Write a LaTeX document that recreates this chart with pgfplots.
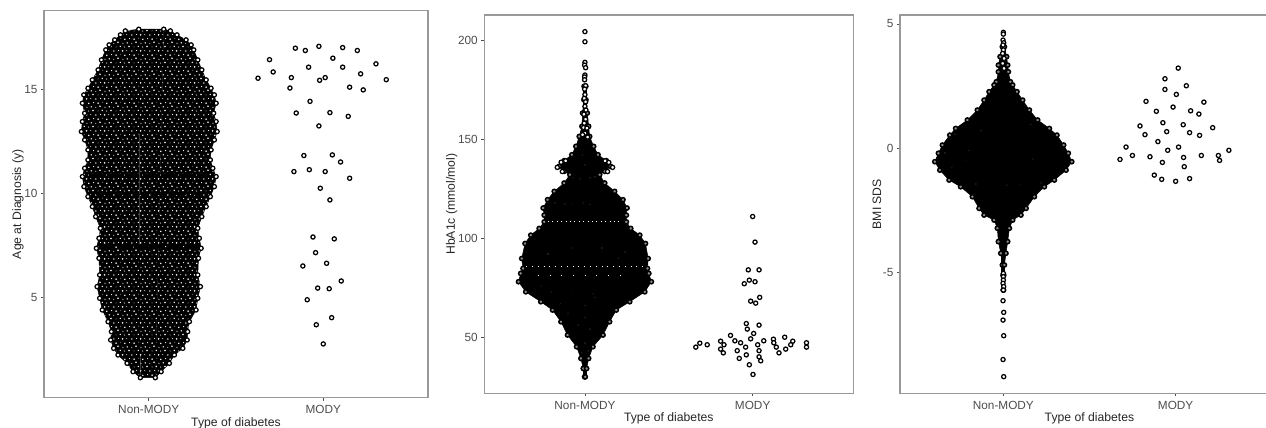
\documentclass[border=0pt]{standalone}
\usepackage{fontspec}
\setmainfont{Liberation Sans}
\usepackage{pgfplots}
\pgfplotsset{compat=1.18}
\usepackage{pgfplotstable}
\usetikzlibrary{patterns}
\pgfdeclarepatternformonly{swarmholes}{\pgfpoint{-1pt}{-1pt}}{\pgfpoint{19pt}{17pt}}{\pgfpoint{18pt}{16pt}}{
  \pgfpathcircle{\pgfpoint{1.2pt}{1.1pt}}{0.8pt}
  \pgfpathcircle{\pgfpoint{5.8pt}{0.6pt}}{0.5pt}
  \pgfpathcircle{\pgfpoint{10.0pt}{1.7pt}}{0.9pt}
  \pgfpathcircle{\pgfpoint{14.9pt}{0.7pt}}{0.6pt}
  \pgfpathcircle{\pgfpoint{3.6pt}{5.4pt}}{0.6pt}
  \pgfpathcircle{\pgfpoint{8.1pt}{4.8pt}}{0.9pt}
  \pgfpathcircle{\pgfpoint{12.8pt}{5.7pt}}{0.4pt}
  \pgfpathcircle{\pgfpoint{16.8pt}{4.7pt}}{0.8pt}
  \pgfpathcircle{\pgfpoint{0.7pt}{9.3pt}}{0.5pt}
  \pgfpathcircle{\pgfpoint{5.9pt}{9.0pt}}{0.8pt}
  \pgfpathcircle{\pgfpoint{10.6pt}{9.5pt}}{0.6pt}
  \pgfpathcircle{\pgfpoint{14.6pt}{9.1pt}}{0.9pt}
  \pgfpathcircle{\pgfpoint{3.0pt}{13.5pt}}{0.9pt}
  \pgfpathcircle{\pgfpoint{8.1pt}{13.0pt}}{0.4pt}
  \pgfpathcircle{\pgfpoint{12.3pt}{13.6pt}}{0.8pt}
  \pgfpathcircle{\pgfpoint{16.7pt}{12.9pt}}{0.6pt}
  \pgfusepath{fill}
}
\definecolor{framegray}{HTML}{999999}
\definecolor{ticktext}{HTML}{4D4D4D}
\pgfplotsset{
  swarmaxis/.style={
    scale only axis, anchor=south west,
    xmin=0.4, xmax=2.6, xtick={1,2}, xticklabels={Non-MODY,MODY},
    xtick pos=bottom, ytick pos=left, tick align=outside,
    major tick length=3pt,
    tick style={color=ticktext, line width=0.8pt},
    axis line style={color=framegray, line width=1.2pt},
    /pgf/number format/assume math mode=true,
    ticklabel style={font=\fontsize{11.8}{14}\selectfont, text=ticktext},
    xticklabel style={yshift=-1pt},
    xlabel={Type of diabetes},
    label style={font=\fontsize{12.2}{14}\selectfont, text=black!85},
    xlabel style={at={(axis description cs:0.5,0)},anchor=center,yshift=-25.5pt},
  },
  ring/.style={only marks, mark=*, mark size=2.1pt,
    mark options={fill=white, draw=black, line width=1.25pt}},
  edge/.style={only marks, mark=*, mark size=2.1pt,
    mark options={fill=black!45, draw=black, line width=1.5pt}},
  hole/.style={only marks, mark=*, mark size=0.6pt,
    mark options={fill=white, draw=none}},
  solid/.style={fill=black, draw=black, line width=0.5pt, mark=none, forget plot},
  dots/.style={pattern=swarmholes, pattern color=white, draw=none, mark=none, forget plot},
}
% rows of the Non-MODY swarm outline: y, left x, right x
\pgfplotstableread{
y xl xr
17.88 .943 1.086
17.80 .866 1.124
17.61 .838 1.162
17.37 .805 1.214
17.13 .773 1.243
16.89 .754 1.258
16.41 .729 1.281
15.93 .710 1.304
15.45 .677 1.329
15.05 .652 1.357
14.73 .628 1.376
14.33 .620 1.386
13.85 .633 1.372
13.45 .620 1.386
12.97 .614 1.392
12.57 .633 1.376
12.09 .652 1.357
11.61 .652 1.353
11.21 .633 1.367
10.81 .620 1.386
10.33 .629 1.376
9.85 .652 1.353
9.37 .677 1.329
8.89 .696 1.304
8.33 .723 1.281
7.85 .715 1.290
7.37 .700 1.300
6.89 .715 1.285
6.09 .719 1.281
5.53 .704 1.296
4.97 .719 1.281
4.41 .734 1.271
3.85 .767 1.233
3.37 .786 1.223
2.97 .782 1.220
2.57 .799 1.195
2.25 .824 1.147
1.85 .876 1.118
1.45 .910 1.071
1.16 .952 1.038
}\ageswarm
\pgfplotstableread{
y xl xr
176.6 .995 1.005
169.8 .994 1.006
163.1 .986 1.014
156.4 .982 1.022
151.3 .966 1.028
146.3 .946 1.052
142.1 .922 1.078
139.1 .876 1.127
136.2 .847 1.153
133.7 .876 1.118
132.0 .910 1.088
127.8 .876 1.118
123.6 .817 1.177
119.4 .777 1.227
115.2 .751 1.251
111.6 .757 1.247
108.2 .757 1.247
104.9 .727 1.273
101.5 .677 1.327
97.3 .643 1.361
89.7 .623 1.377
84.7 .631 1.373
82.2 .617 1.381
78.0 .604 1.396
72.9 .647 1.357
67.9 .737 1.267
63.7 .807 1.187
57.8 .857 1.147
51.1 .896 1.108
45.2 .950 1.048
39.3 .976 1.022
34.2 .990 1.010
30.0 .998 1.002
}\hbaswarm
\pgfplotstableread{
y xl xr
4.08 .994 1.006
3.68 .981 1.019
3.34 .971 1.025
3.07 .971 1.029
2.67 .959 1.041
2.54 .946 1.054
2.27 .917 1.079
1.93 .888 1.112
1.53 .849 1.151
1.13 .791 1.199
.79 .723 1.267
.52 .689 1.311
.12 .646 1.350
-.21 .623 1.377
-.55 .602 1.397
-.89 .631 1.364
-1.29 .685 1.296
-1.56 .752 1.238
-1.96 .820 1.180
-2.43 .859 1.132
-2.70 .888 1.102
-2.90 .946 1.054
-3.23 .965 1.035
-3.77 .971 1.025
-4.24 .985 1.015
-4.71 .994 1.006
-5.12 .998 1.002
-5.72 .999 1.001
}\bmiswarm
\begin{document}
\begin{tikzpicture}
% ---------- Panel 1
\begin{axis}[swarmaxis, at={(44pt,30.3pt)}, width=384pt, height=387pt,
  ymin=0.2, ymax=18.77, ytick={5,10,15},
  ylabel={Age at Diagnosis (y)},
  ylabel style={at={(axis description cs:0,0.5)},anchor=center,yshift=26pt}]
\addplot[solid] table[x=xl,y=y] {\ageswarm};
\addplot[solid] table[x=xr,y=y] {\ageswarm};
\addplot[solid] coordinates {(.943,17.88)(1.086,17.88)(1.038,1.16)(.952,1.16)};
\addplot[dots] table[x=xl,y=y] {\ageswarm};
\addplot[dots] table[x=xr,y=y] {\ageswarm};
\addplot[dots] coordinates {(.943,17.88)(1.086,17.88)(1.038,1.16)(.952,1.16)};
\addplot[black, line width=3pt, dash pattern=on 14pt off 3pt] coordinates {(.72,7.45) (1.28,7.45)};
\addplot[black, line width=1.6pt, dash pattern=on 14pt off 4pt] coordinates {(.75,4.65) (1.02,4.65)};
\addplot[black, line width=1.6pt, dash pattern=on 14pt off 4pt] coordinates {(.66,10.9) (1.34,10.9)};
\addplot[black, line width=1.3pt, dash pattern=on 14pt off 5pt] coordinates {(.70,9.95) (1.30,9.95)};
\addplot[ring] table[x=xl,y=y] {\ageswarm};
\addplot[ring] table[x=xr,y=y] {\ageswarm};
\addplot[ring] coordinates {
(1.840,16.97)(1.897,16.86)(1.975,17.06)(2.111,17.00)(2.195,16.86)(1.692,16.42)(2.055,16.49)
(2.302,16.22)(1.916,16.06)(2.111,16.06)(1.713,15.83)(2.214,15.74)(1.817,15.56)(2.011,15.56)
(1.979,15.43)(1.626,15.53)(2.361,15.46)(1.809,15.06)(2.151,15.10)(2.229,14.97)(1.924,14.42)
(1.845,13.86)(2.038,13.88)(2.143,13.70)(1.975,13.24)(1.889,11.82)(2.052,11.85)(2.099,11.51)
(1.832,11.05)(1.920,11.14)(2.011,11.05)(2.151,10.73)(1.983,10.25)(2.038,9.69)(1.941,7.91)
(2.063,7.82)(1.956,7.16)(2.019,6.65)(1.883,6.52)(2.103,5.80)(1.968,5.46)(2.034,5.43)
(1.908,4.90)(2.048,4.04)(1.960,3.70)(2.000,2.78)};
\end{axis}
% ---------- Panel 2
\begin{axis}[swarmaxis, at={(484.3pt,34.7pt)}, width=369pt, height=378.3pt,
  ymin=21.7, ymax=212.6, ytick={50,100,150,200},
  ylabel={HbA1c (mmol/mol)},
  ylabel style={at={(axis description cs:0,0.5)},anchor=center,yshift=32.5pt}]
\addplot[solid] table[x=xl,y=y] {\hbaswarm};
\addplot[solid] table[x=xr,y=y] {\hbaswarm};
\addplot[black, line width=4pt] coordinates {(1,176) (1,31)};
\addplot[white, line width=0.9pt, dash pattern=on 0.9pt off 3.5pt] coordinates {(.78,108.6) (1.22,108.6)};
\addplot[white, line width=0.8pt, dash pattern=on 0.8pt off 5pt] coordinates {(.65,85.5) (1.36,85.5)};
\addplot[white, line width=0.7pt, dash pattern=on 0.7pt off 11pt] coordinates {(.72,81) (1.25,81)};
\addplot[edge] table[x=xl,y=y] {\hbaswarm};
\addplot[edge] table[x=xr,y=y] {\hbaswarm};
\addplot[ring] coordinates {
(1.000,204.2)(1.000,199.1)(1.000,188.7)(.998,187.3)(1.004,186)(1.000,182.3)(.998,181.3)(.998,179.9)
(1.004,176.9)(.998,175.2)(1.000,172.4)(.996,170.5)(1.004,168.8)(1.000,166.5)(1.006,164.6)(.994,162.5)
(1.004,160)(.996,158)(.992,155.8)(1.012,155.5)(1.000,153)(.986,152.2)(1.016,151)
(.858,138.3)(.835,135.7)(1.142,138.2)(1.165,135.7)(.865,133.6)(1.135,133.6)(.885,139)(1.12,139)};
\addplot[hole] coordinates {
(.985,142)(1.00,137)(.93,130.5)(.97,130)(1.03,130.5)(1.06,131)
(.82,117.6)(.88,117.2)(.92,117.5)(.99,117.8)(1.03,117)
(.78,92)(.92,95)(1.10,95)(1.24,93)(1.20,90)
(.74,76)(.80,73)(.92,72)(1.05,72)(.85,67)(1.00,66)(1.06,70)(.90,62)
(1.00,60)(.96,56)(1.03,54)(1.00,47)(.98,42)(1.02,43)};
\addplot[ring] coordinates {
(2.000,110.9)(2.014,98.0)(1.974,84.0)(2.038,84.0)(1.950,77.0)(1.980,78.8)(2.014,78.0)(2.042,70.1)
(1.988,68.2)(2.018,67.2)(1.962,56.9)(2.038,56.1)(1.968,54.1)(2.006,51.9)(1.868,50.9)(1.988,49.2)
(1.809,48.0)(1.894,48.2)(1.928,47.2)(2.066,48.2)(2.124,49.0)(2.191,50.0)(2.239,48.0)(2.321,47.2)
(1.685,47.0)(1.729,46.2)(1.661,45.0)(1.829,46.2)(1.958,45.0)(2.030,46.2)(2.126,47.2)(2.141,45.0)
(2.227,46.2)(2.197,44.0)(2.321,45.0)(1.809,44.0)(1.825,42.1)(1.908,43.2)(2.038,43.2)(2.157,42.1)
(1.962,41.1)(1.920,39.3)(2.038,40.1)(2.048,38.1)(1.980,36.1)(2.002,31.2)};
\end{axis}
% ---------- Panel 3 (its right edge runs past the page, as in the reference)
\begin{axis}[swarmaxis, at={(900pt,34.7pt)}, width=379pt, height=378.3pt,
  ymin=-9.88, ymax=5.36, ytick={-5,0,5},
  ylabel={BMI SDS},
  ylabel style={at={(axis description cs:0,0.5)},anchor=center,yshift=23pt}]
\addplot[solid] table[x=xl,y=y] {\bmiswarm};
\addplot[solid] table[x=xr,y=y] {\bmiswarm};
\addplot[black, line width=4pt] coordinates {(1,4.0) (1,-5.6)};
\addplot[edge] table[x=xl,y=y] {\bmiswarm};
\addplot[edge] table[x=xr,y=y] {\bmiswarm};
\addplot[ring] coordinates {
(1.000,4.66)(1.000,4.59)(.998,4.35)(1.002,4.24)(.998,4.15)(1.000,3.95)(.996,3.81)(1.004,3.61)
(.996,3.41)(1.004,3.21)(1.000,-5.05)(1.000,-5.18)(1.000,-5.32)(.998,-5.45)(1.002,-5.58)(1.000,-5.72)
(.998,-6.15)(1.002,-6.62)(.998,-6.93)(1.002,-7.56)(.998,-8.52)(1.002,-9.21)};
\addplot[hole] coordinates {(.87,.7)(.72,.55)(.80,-.1)(.66,-.2)(.70,-.75)(.78,-.5)(1.17,-.45)(1.16,.95)(.84,-1.45)(1.10,-1.5)(1.22,-1.4)(1.02,-1.5)};
\addplot[ring] coordinates {
(2.015,3.22)(1.938,2.79)(2.062,2.51)(1.938,2.36)(2.004,2.16)(1.828,1.88)(2.164,1.85)(1.985,1.65)
(1.888,1.48)(2.087,1.50)(2.135,1.37)(1.926,1.02)(2.044,.94)(1.793,.89)(2.215,.82)(1.948,.66)
(2.081,.62)(1.822,.54)(2.139,.51)(1.897,.26)(1.712,.04)(2.017,.04)(1.954,-.09)(2.309,-.09)
(1.749,-.30)(1.851,-.35)(2.046,-.38)(2.149,-.30)(2.248,-.30)(1.677,-.46)(2.255,-.50)(1.923,-.58)
(2.050,-.75)(1.876,-1.09)(1.919,-1.26)(2.000,-1.34)(2.081,-1.23)};
\end{axis}
\pgfresetboundingbox
\path[use as bounding box] (0,0) rectangle (1266pt,428pt);
\end{tikzpicture}
\end{document}
